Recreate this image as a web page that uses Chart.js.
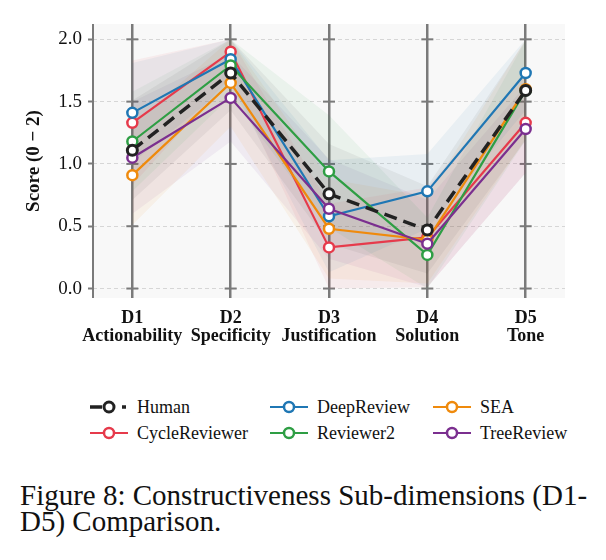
<!DOCTYPE html>
<html>
<head>
<meta charset="utf-8">
<script src="https://cdn.jsdelivr.net/npm/chart.js@4.4.1/dist/chart.umd.min.js"></script>
<style>
  body { margin: 0; background: #fff; }
  #wrap { position: relative; width: 606px; height: 560px; overflow: hidden; font-family: "Liberation Serif", serif; }
  #box { position: absolute; left: 0; top: 0; width: 606px; height: 360px; }
  .item { position: absolute; height: 24px; display: flex; align-items: center; font-size: 18px; color: #111; white-space: nowrap; }
  .item canvas { margin-right: 9px; }
  #caption { position: absolute; left: 20px; top: 482px; font-size: 29px; line-height: 26px; color: #111; white-space: nowrap; }
</style>
</head>
<body>
<div id="wrap">
  <div id="box"><canvas id="chart"></canvas></div>
  <div id="legend"></div>
  <div id="caption">Figure 8: Constructiveness Sub-dimensions (D1-<br>D5) Comparison.</div>
</div>
<script>
// dimensions on the x axis
const dims = ['D1', 'D2', 'D3', 'D4', 'D5'];
const dimNames = ['Actionability', 'Specificity', 'Justification', 'Solution', 'Tone'];
const yTicks = [0, 0.5, 1.0, 1.5, 2.0];

// mean scores per reviewer
const human = [1.11, 1.73, 0.76, 0.47, 1.59];
const cycleReviewer = [1.33, 1.90, 0.33, 0.41, 1.33];
const deepReview = [1.41, 1.84, 0.58, 0.78, 1.73];
const reviewer2 = [1.18, 1.79, 0.94, 0.27, 1.59];
const sea = [0.91, 1.65, 0.48, 0.39, 1.60];
const treeReview = [1.05, 1.53, 0.64, 0.36, 1.28];

// spread (shaded bands)
const humanStd = [0.40, 0.30, 0.40, 0.35, 0.40];
const cycleReviewerStd = [0.50, 0.20, 0.35, 0.40, 0.40];
const deepReviewStd = [0.40, 0.20, 0.45, 0.30, 0.30];
const reviewer2Std = [0.40, 0.25, 0.45, 0.30, 0.40];
const seaStd = [0.40, 0.35, 0.40, 0.35, 0.40];
const treeReviewStd = [0.45, 0.35, 0.40, 0.35, 0.35];

const series = [
  { name: 'Human', mean: human, std: humanStd, color: '#222222', rgb: '60,60,60', order: 0, dashed: true },
  { name: 'CycleReviewer', mean: cycleReviewer, std: cycleReviewerStd, color: '#e63a4b', rgb: '230,58,75', order: 5 },
  { name: 'DeepReview', mean: deepReview, std: deepReviewStd, color: '#1f77b4', rgb: '31,119,180', order: 4 },
  { name: 'Reviewer2', mean: reviewer2, std: reviewer2Std, color: '#2e9e44', rgb: '46,158,68', order: 3 },
  { name: 'SEA', mean: sea, std: seaStd, color: '#ef8a0c', rgb: '239,138,12', order: 2 },
  { name: 'TreeReview', mean: treeReview, std: treeReviewStd, color: '#7b2f8f', rgb: '123,47,143', order: 1 }
];

const pts = arr => arr.map((v, i) => ({ x: i, y: v }));

const datasets = [];
series.forEach(s => {
  datasets.push({
    data: pts(s.mean.map((m, i) => Math.min(2, m + s.std[i]))),
    fill: '+1', backgroundColor: 'rgba(' + s.rgb + ',0.065)',
    borderWidth: 0, pointRadius: 0, order: 10
  });
  datasets.push({
    data: pts(s.mean.map((m, i) => Math.max(0, m - s.std[i]))),
    fill: false, borderWidth: 0, pointRadius: 0, order: 10
  });
});
series.forEach(s => {
  datasets.push({
    label: s.name,
    data: pts(s.mean),
    borderColor: s.color,
    borderWidth: s.dashed ? 3.5 : 2.2,
    borderDash: s.dashed ? [13, 7] : [],
    pointRadius: 5,
    pointBorderWidth: s.dashed ? 3 : 2.5,
    pointBackgroundColor: '#fff',
    pointBorderColor: s.color,
    fill: false,
    order: s.order
  });
});

const frame = {
  id: 'frame',
  beforeDraw(chart) {
    const { ctx, chartArea: a } = chart;
    ctx.save();
    ctx.fillStyle = '#f8f8f8';
    ctx.fillRect(a.left, a.top, a.right - a.left, a.bottom - a.top);
    ctx.restore();
  },
  beforeDatasetsDraw(chart) {
    const { ctx, chartArea: a, scales: { x, y } } = chart;
    ctx.save();
    ctx.strokeStyle = '#7a7a7a';
    ctx.lineWidth = 2;
    ctx.beginPath();
    ctx.moveTo(a.left, a.top);
    ctx.lineTo(a.left, a.bottom);
    ctx.stroke();
    x.ticks.forEach(t => {
      const px = x.getPixelForValue(t.value);
      y.ticks.forEach(u => {
        const py = y.getPixelForValue(u.value);
        ctx.beginPath();
        ctx.moveTo(px - 6, py);
        ctx.lineTo(px + 6, py);
        ctx.stroke();
      });
    });
    ctx.restore();
  }
};

Chart.defaults.font.family = '"Liberation Serif", serif';
Chart.defaults.color = '#111';

new Chart(document.getElementById('chart'), {
  type: 'line',
  data: { datasets },
  options: {
    responsive: true,
    maintainAspectRatio: false,
    animation: false,
    layout: { padding: { top: 24, right: 41, left: 0, bottom: 0 } },
    plugins: { legend: { display: false }, tooltip: { enabled: false } },
    scales: {
      x: {
        type: 'linear', min: -0.4, max: 4.4,
        ticks: {
          stepSize: 1, includeBounds: false, padding: 11, maxRotation: 0,
          font: { size: 18, weight: 'bold', lineHeight: 1.02 }, color: '#111',
          callback: v => dims[v] ? [dims[v], dimNames[v]] : ''
        },
        grid: { color: '#7a7a7a', lineWidth: 2.5, drawTicks: false },
        border: { display: false },
        afterFit: s => { s.height = 62; }
      },
      y: {
        min: -0.076, max: 2.123,
        afterBuildTicks: s => { s.ticks = yTicks.map(v => ({ value: v })); },
        ticks: { padding: 6, font: { size: 19 }, color: '#111', callback: v => v.toFixed(1) },
        grid: { color: '#d6d6d6', lineWidth: 1, tickLength: 5, tickColor: '#7a7a7a', tickWidth: 2 },
        border: { display: false, dash: [4, 3] },
        title: { display: true, text: 'Score (0 − 2)', font: { size: 19, weight: 'bold' }, color: '#111', padding: { top: 23, bottom: 0 } },
        afterFit: s => { s.width = 93; }
      }
    }
  },
  plugins: [frame]
});

// legend, laid out in three columns like the original
const legendOrder = ['Human', 'DeepReview', 'SEA', 'CycleReviewer', 'Reviewer2', 'TreeReview'];
const colX = [90, 270, 433];
const rowY = [395, 421];
const legend = document.getElementById('legend');
legendOrder.forEach((name, k) => {
  const s = series.find(d => d.name === name);
  const item = document.createElement('div');
  item.className = 'item';
  item.style.left = colX[k % 3] + 'px';
  item.style.top = rowY[Math.floor(k / 3)] + 'px';
  const c = document.createElement('canvas');
  c.width = 38; c.height = 20;
  const g = c.getContext('2d');
  g.strokeStyle = s.color;
  if (s.dashed) {
    g.lineWidth = 3.5;
    g.beginPath(); g.moveTo(0, 10); g.lineTo(12, 10); g.stroke();
    g.beginPath(); g.moveTo(32, 10); g.lineTo(36, 10); g.stroke();
  } else {
    g.lineWidth = 2.2;
    g.beginPath(); g.moveTo(0, 10); g.lineTo(38, 10); g.stroke();
  }
  g.fillStyle = '#fff';
  g.lineWidth = s.dashed ? 3 : 2.5;
  g.beginPath(); g.arc(19, 10, 5, 0, Math.PI * 2); g.fill(); g.stroke();
  item.appendChild(c);
  item.appendChild(document.createTextNode(name));
  legend.appendChild(item);
});
</script>
</body>
</html>
